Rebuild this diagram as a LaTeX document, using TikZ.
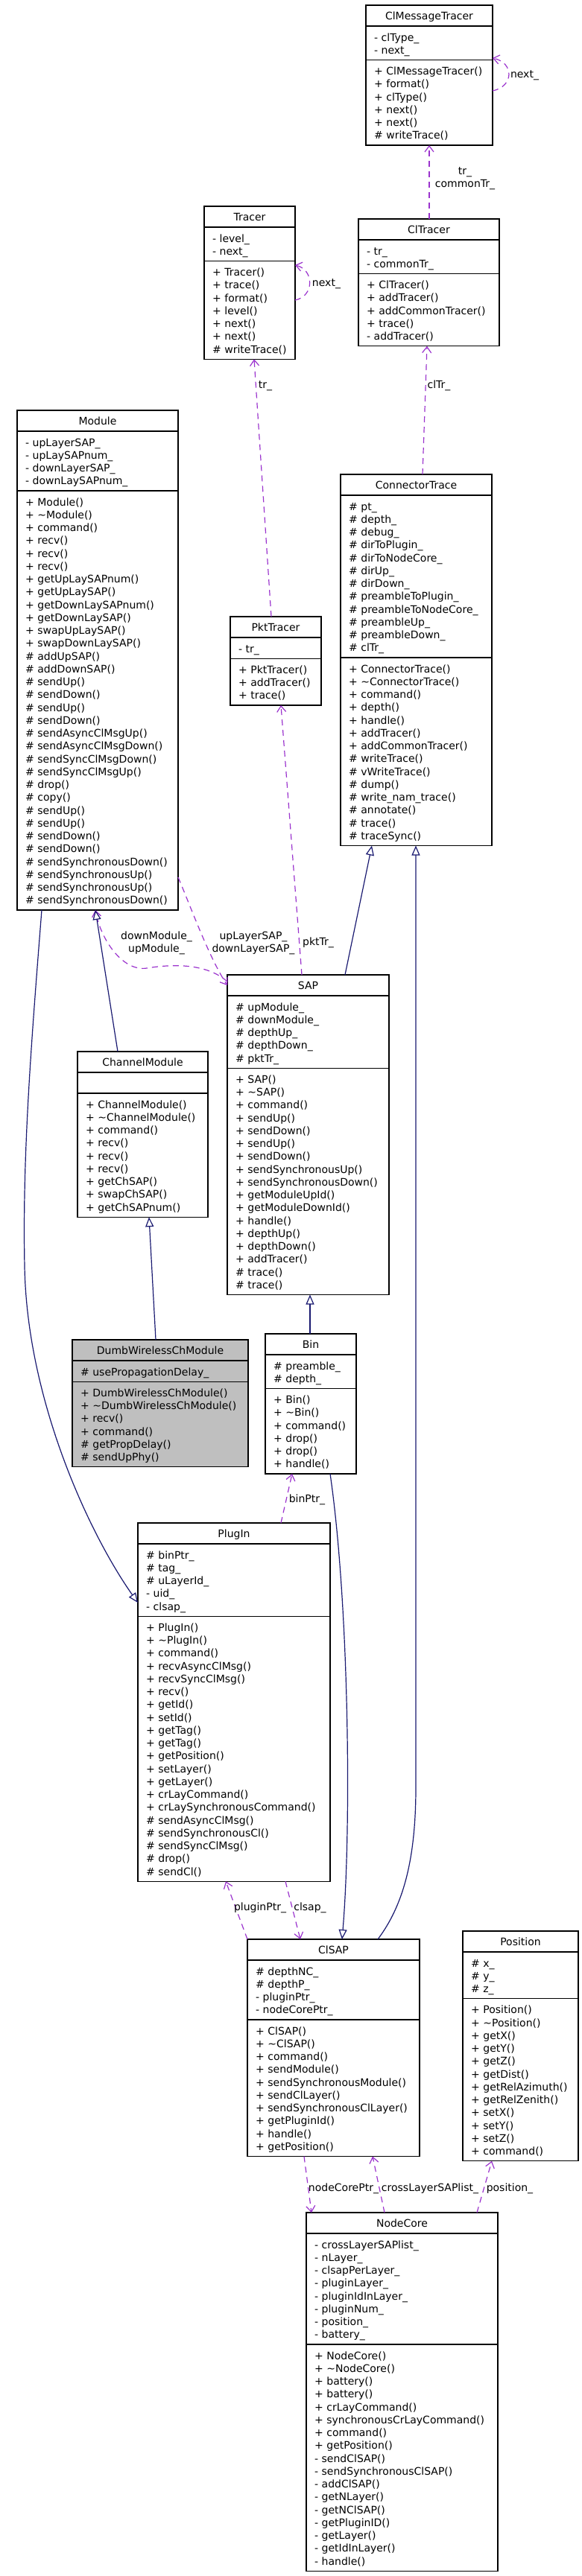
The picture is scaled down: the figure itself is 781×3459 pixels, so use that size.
\documentclass[tikz,border=0pt]{standalone}
\usepackage{fontspec}
\setmainfont{DejaVu Sans}
\usetikzlibrary{arrows.meta}
\definecolor{orchidc}{HTML}{9A32CD}
\definecolor{navyc}{HTML}{191970}
\definecolor{greyfill}{HTML}{BFBFBF}
\newcommand\ustrut{\rule{0pt}{12pt}}
\newcommand\ubfill{white}
\newcommand\umlclass[9]{%
  \pgfmathsetmacro\uha{ifthenelse(#6==0,28,#6*17.25+11)}%
  \pgfmathsetmacro\uhm{#8*17.25+11}%
  \pgfmathsetlengthmacro\uht{(28+\uha+\uhm)*1pt}%
  \pgfmathsetlengthmacro\uwd{#4*1pt}%
  \pgfmathsetmacro\uyb{#3+28}%
  \pgfmathsetmacro\uyc{#3+28+\uha}%
  \node[classbox, fill=\ubfill, minimum width=\uwd, minimum height=\uht] (#1) at (#2,#3) {};%
  \draw[sepline] (#2,\uyb) -- ++(#4,0);%
  \draw[sepline] (#2,\uyc) -- ++(#4,0);%
  \node[titletext] (#1-title) at (#2+#4/2,#3+7) {\ustrut#5};%
  \node[listtext] (#1-attrs) at (#2+11,\uyb+8) {\ustrut#7};%
  \node[listtext] (#1-ops) at (#2+11,\uyc+8) {\ustrut#9};%
}
\tikzset{
  classbox/.style={draw=black, line width=1.2pt, anchor=north west, inner sep=0pt, outer sep=0pt},
  sepline/.style={draw=black, line width=1.2pt},
  titletext/.style={anchor=north, inner sep=0pt},
  listtext/.style={anchor=north west, align=left, inner sep=0pt},
  elabel/.style={anchor=north, align=center, inner sep=0pt},
  useedge/.style={draw=orchidc, line width=1.2pt, dash pattern=on 8pt off 6pt,
    -{Straight Barb[length=8pt,width=12pt,line width=1.2pt]}},
  inhedge/.style={draw=navyc, line width=1.2pt,
    -{Triangle[open,length=13pt,width=11pt,fill=white,line width=1.2pt]}}
}
\begin{document}
\begin{tikzpicture}[x=1pt,y=-1pt,font=\fontsize{14}{17.25}\selectfont]
\useasboundingbox (0,0) rectangle (781,3459);

\umlclass{clmt}{491}{7}{170}{ClMessageTracer}{2}{- clType\_\\- next\_}{6}{+ ClMessageTracer()\\+ format()\\+ clType()\\+ next()\\+ next()\\\# writeTrace()}

\umlclass{tracer}{274}{277}{122}{Tracer}{2}{- level\_\\- next\_}{7}{+ Tracer()\\+ trace()\\+ format()\\+ level()\\+ next()\\+ next()\\\# writeTrace()}

\umlclass{cltracer}{481}{294}{189}{ClTracer}{2}{- tr\_\\- commonTr\_}{5}{+ ClTracer()\\+ addTracer()\\+ addCommonTracer()\\+ trace()\\- addTracer()}

\umlclass{module}{23}{551}{216}{Module}{4}{- upLayerSAP\_\\- upLaySAPnum\_\\- downLayerSAP\_\\- downLaySAPnum\_}{32}{+ Module()\\+ \textasciitilde Module()\\+ command()\\+ recv()\\+ recv()\\+ recv()\\+ getUpLaySAPnum()\\+ getUpLaySAP()\\+ getDownLaySAPnum()\\+ getDownLaySAP()\\+ swapUpLaySAP()\\+ swapDownLaySAP()\\\# addUpSAP()\\\# addDownSAP()\\\# sendUp()\\\# sendDown()\\\# sendUp()\\\# sendDown()\\\# sendAsyncClMsgUp()\\\# sendAsyncClMsgDown()\\\# sendSyncClMsgDown()\\\# sendSyncClMsgUp()\\\# drop()\\\# copy()\\\# sendUp()\\\# sendUp()\\\# sendDown()\\\# sendDown()\\\# sendSynchronousDown()\\\# sendSynchronousUp()\\\# sendSynchronousUp()\\\# sendSynchronousDown()}

\umlclass{conntrace}{457}{637}{203}{ConnectorTrace}{12}{\# pt\_\\\# depth\_\\\# debug\_\\\# dirToPlugin\_\\\# dirToNodeCore\_\\\# dirUp\_\\\# dirDown\_\\\# preambleToPlugin\_\\\# preambleToNodeCore\_\\\# preambleUp\_\\\# preambleDown\_\\\# clTr\_}{14}{+ ConnectorTrace()\\+ \textasciitilde ConnectorTrace()\\+ command()\\+ depth()\\+ handle()\\+ addTracer()\\+ addCommonTracer()\\\# writeTrace()\\\# vWriteTrace()\\\# dump()\\\# write\_nam\_trace()\\\# annotate()\\\# trace()\\\# traceSync()}

\umlclass{pkttracer}{309}{828}{122}{PktTracer}{1}{- tr\_}{3}{+ PktTracer()\\+ addTracer()\\+ trace()}

\umlclass{sap}{305}{1309}{217}{SAP}{5}{\# upModule\_\\\# downModule\_\\\# depthUp\_\\\# depthDown\_\\\# pktTr\_}{17}{+ SAP()\\+ \textasciitilde SAP()\\+ command()\\+ sendUp()\\+ sendDown()\\+ sendUp()\\+ sendDown()\\+ sendSynchronousUp()\\+ sendSynchronousDown()\\+ getModuleUpId()\\+ getModuleDownId()\\+ handle()\\+ depthUp()\\+ depthDown()\\+ addTracer()\\\# trace()\\\# trace()}

\umlclass{chmod}{104}{1412}{175}{ChannelModule}{0}{}{9}{+ ChannelModule()\\+ \textasciitilde ChannelModule()\\+ command()\\+ recv()\\+ recv()\\+ recv()\\+ getChSAP()\\+ swapChSAP()\\+ getChSAPnum()}

\umlclass{bin}{356}{1791}{122}{Bin}{2}{\# preamble\_\\\# depth\_}{6}{+ Bin()\\+ \textasciitilde Bin()\\+ command()\\+ drop()\\+ drop()\\+ handle()}

\renewcommand\ubfill{greyfill}
\umlclass{dumb}{97}{1799}{236}{DumbWirelessChModule}{1}{\# usePropagationDelay\_}{6}{+ DumbWirelessChModule()\\+ \textasciitilde DumbWirelessChModule()\\+ recv()\\+ command()\\\# getPropDelay()\\\# sendUpPhy()}
\renewcommand\ubfill{white}

\umlclass{plugin}{185}{2045}{258}{PlugIn}{5}{\# binPtr\_\\\# tag\_\\\# uLayerId\_\\- uid\_\\- clsap\_}{20}{+ PlugIn()\\+ \textasciitilde PlugIn()\\+ command()\\+ recvAsyncClMsg()\\+ recvSyncClMsg()\\+ recv()\\+ getId()\\+ setId()\\+ getTag()\\+ getTag()\\+ getPosition()\\+ setLayer()\\+ getLayer()\\+ crLayCommand()\\+ crLaySynchronousCommand()\\\# sendAsyncClMsg()\\\# sendSynchronousCl()\\\# sendSyncClMsg()\\\# drop()\\\# sendCl()}

\umlclass{clsap}{332}{2604}{231}{ClSAP}{4}{\# depthNC\_\\\# depthP\_\\- pluginPtr\_\\- nodeCorePtr\_}{10}{+ ClSAP()\\+ \textasciitilde ClSAP()\\+ command()\\+ sendModule()\\+ sendSynchronousModule()\\+ sendClLayer()\\+ sendSynchronousClLayer()\\+ getPluginId()\\+ handle()\\+ getPosition()}

\umlclass{position}{621}{2593}{155}{Position}{3}{\# x\_\\\# y\_\\\# z\_}{12}{+ Position()\\+ \textasciitilde Position()\\+ getX()\\+ getY()\\+ getZ()\\+ getDist()\\+ getRelAzimuth()\\+ getRelZenith()\\+ setX()\\+ setY()\\+ setZ()\\+ command()}

\umlclass{nodecore}{411}{2971}{257}{NodeCore}{8}{- crossLayerSAPlist\_\\- nLayer\_\\- clsapPerLayer\_\\- pluginLayer\_\\- pluginIdInLayer\_\\- pluginNum\_\\- position\_\\- battery\_}{17}{+ NodeCore()\\+ \textasciitilde NodeCore()\\+ battery()\\+ battery()\\+ crLayCommand()\\+ synchronousCrLayCommand()\\+ command()\\+ getPosition()\\- sendClSAP()\\- sendSynchronousClSAP()\\- addClSAP()\\- getNLayer()\\- getNClSAP()\\- getPluginID()\\- getLayer()\\- getIdInLayer()\\- handle()}

% usage edges
\draw[useedge] (cltracer.north -| 576,0) -- (clmt.south -| 576,0);
\node[elabel] (l-trct) at (624,222) {\ustrut tr\_\\commonTr\_};

\draw[useedge] (clmt.east |- 0,122) .. controls (690,116) and (690,84) .. (clmt.east |- 0,78);
\node[elabel] (l-next1) at (704,92) {\ustrut next\_};

\draw[useedge] (tracer.east |- 0,403) .. controls (422,398) and (422,362) .. (tracer.east |- 0,356);
\node[elabel] (l-next2) at (438,372) {\ustrut next\_};

\draw[useedge] (pkttracer.north -| 364,0) -- (tracer.south -| 341,0);
\node[elabel] (l-tr) at (356,509) {\ustrut tr\_};

\draw[useedge] (conntrace.north -| 567,0) -- (cltracer.south -| 573,0);
\node[elabel] (l-cltr) at (589,509) {\ustrut clTr\_};

\draw[useedge] (sap.north -| 405,0) -- (pkttracer.south -| 377,0);
\node[elabel] (l-pkttr) at (427,1257) {\ustrut pktTr\_};

\draw[useedge] ([yshift=-9pt]sap.north west) .. controls (280,1296) and (240,1293) .. (197,1300) .. controls (165,1305) and (135,1262) .. (module.south -| 128,0);
\node[elabel] (l-mod) at (210,1249) {\ustrut downModule\_\\upModule\_};

\draw[useedge] (module.east |- 0,1178) .. controls (255,1215) and (280,1285) .. ([yshift=-14pt]sap.north west);
\node[elabel] (l-laysap) at (340,1249) {\ustrut upLayerSAP\_\\downLayerSAP\_};

\draw[useedge] (plugin.north -| 377,0) -- (bin.south -| 392,0);
\node[elabel] (l-binptr) at (412,2005) {\ustrut binPtr\_};

\draw[useedge] (clsap.north west) -- (plugin.south -| 303,0);
\node[elabel] (l-plugptr) at (349,2553) {\ustrut pluginPtr\_};

\draw[useedge] (plugin.south -| 383,0) -- (clsap.north -| 403,0);
\node[elabel] (l-clsap) at (416,2553) {\ustrut clsap\_};

\draw[useedge] (clsap.south -| 408,0) -- (nodecore.north -| 418,0);
\node[elabel] (l-ncptr) at (461,2930) {\ustrut nodeCorePtr\_};

\draw[useedge] (nodecore.north -| 516,0) -- (clsap.south -| 500,0);
\node[elabel] (l-cls) at (577,2930) {\ustrut crossLayerSAPlist\_};

\draw[useedge] (nodecore.north -| 640,0) -- (position.south -| 660,0);
\node[elabel] (l-pos) at (684,2930) {\ustrut position\_};

% inheritance edges
\draw[inhedge] (chmod.north -| 158,0) -- (module.south -| 128,0);
\draw[inhedge] (module.south -| 56,0) .. controls (42,1400) and (30,1550) .. (33,1700) .. controls (36,1880) and (120,2060) .. (plugin.west |- 0,2152);
\draw[inhedge] (dumb.north -| 209,0) -- (chmod.south -| 200,0);
\draw[inhedge] (sap.north -| 463,0) -- (conntrace.south -| 499,0);
\draw[inhedge] (clsap.north -| 507,0) .. controls (540,2560) and (558,2500) .. (558,2400) -- (conntrace.south -| 558,0);
\draw[inhedge] (bin.north -| 416,0) -- (sap.south -| 416,0);
\draw[inhedge] (bin.south -| 443,0) .. controls (468,2150) and (472,2450) .. (clsap.north -| 459,0);
\end{tikzpicture}
\end{document}
